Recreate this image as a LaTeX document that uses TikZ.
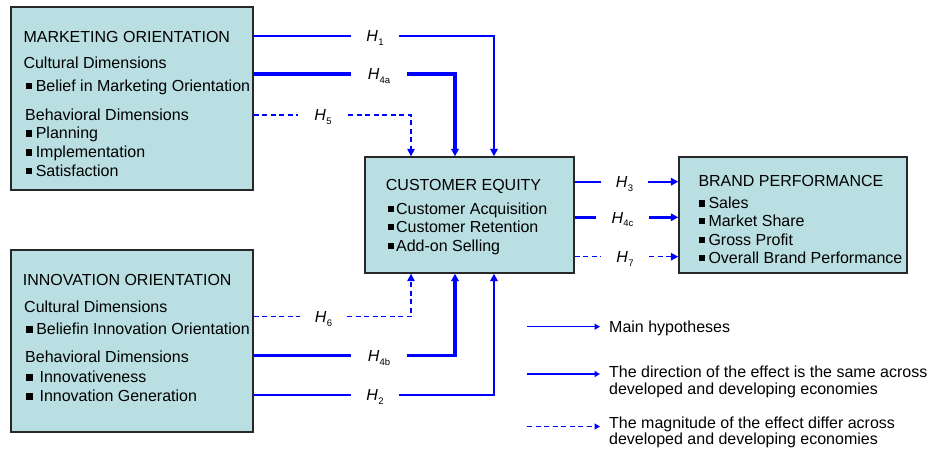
\documentclass[tikz,border=0pt]{standalone}
\usepackage{fontspec}
\setmainfont{Liberation Sans}
\usetikzlibrary{arrows.meta,calc}

\definecolor{boxfill}{RGB}{186,223,226}
\definecolor{edge}{RGB}{40,40,40}
\definecolor{hypblue}{RGB}{0,0,255}

% square bullet used in the construct boxes
\newcommand\sqb{\rule[1.8pt]{6.6pt}{6.6pt}}
% hypothesis label: italic H with a lowered index, centred on the connector
\newcommand\hyp[1]{\raisebox{-5.8pt}[0pt][0pt]{\textit{H}\kern0.3pt\raisebox{-3.6pt}{\fontsize{9.5}{10}\selectfont #1}}}

\begin{document}
\begin{tikzpicture}[
  x=1pt, y=-1pt,
  font=\fontsize{16}{19}\selectfont,
  box/.style={draw=edge, line width=1.4pt, fill=boxfill, inner sep=0},
  txt/.style={anchor=base west, inner sep=0},
  ltxt/.style={anchor=base west, inner ysep=0, inner xsep=9pt},
  hlab/.style={inner sep=0, minimum height=0},
  thinline/.style={draw=hypblue, line width=1.9pt},
  thickline/.style={draw=hypblue, line width=3.1pt},
  dashline/.style={draw=hypblue, line width=1.4pt, dash pattern=on 5pt off 3.5pt},
  tip/.style={-{Triangle[length=7.5pt,width=7.5pt]}},
  smalltip/.style={-{Triangle[length=5.5pt,width=6pt]}}
]
\useasboundingbox (0,0) rectangle (937,448);

% construct boxes
\node[box, minimum width=242pt, minimum height=183pt] (mo) at (132,98.5) {};
\node[box, minimum width=242pt, minimum height=182pt] (io) at (132,341) {};
\node[box, minimum width=209pt, minimum height=116pt] (ce) at (469.5,215) {};
\node[box, minimum width=228pt, minimum height=116pt] (bp) at (793,215) {};

% marketing orientation
\node[txt] (mo1) at (23.3,42) {MARKETING ORIENTATION};
\node[txt] (mo2) at (23.3,68.3) {Cultural Dimensions};
\node[txt] (mo3) at (25.3,91) {\sqb\hspace{3.7pt}Belief in Marketing Orientation};
\node[txt] (mo4) at (25,120) {Behavioral Dimensions};
\node[txt] (mo5) at (25.3,138.3) {\sqb\hspace{3.7pt}Planning};
\node[txt] (mo6) at (25.3,157.3) {\sqb\hspace{3.7pt}Implementation};
\node[txt] (mo7) at (25.3,176) {\sqb\hspace{3.7pt}Satisfaction};

% innovation orientation
\node[txt] (io1) at (22.7,285.3) {INNOVATION ORIENTATION};
\node[txt] (io2) at (24,312) {Cultural Dimensions};
\node[txt] (io3) at (26,334.3) {\sqb\hspace{3.5pt}Beliefin Innovation Orientation};
\node[txt] (io4) at (25,362) {Behavioral Dimensions};
\node[txt] (io5) at (26,382.3) {\sqb\hspace{6.8pt}Innovativeness};
\node[txt] (io6) at (26,401.3) {\sqb\hspace{6.8pt}Innovation Generation};

% customer equity
\node[txt] (ce1) at (385.7,190) {CUSTOMER EQUITY};
\node[txt] (ce2) at (387.3,214) {\sqb\hspace{2pt}Customer Acquisition};
\node[txt] (ce3) at (387.3,232) {\sqb\hspace{2pt}Customer Retention};
\node[txt] (ce4) at (387.3,251) {\sqb\hspace{2pt}Add-on Selling};

% brand performance
\node[txt] (bp1) at (698.3,186.3) {BRAND PERFORMANCE};
\node[txt] (bp2) at (698.3,208.7) {\sqb\hspace{3.4pt}Sales};
\node[txt] (bp3) at (698.3,226) {\sqb\hspace{3.4pt}Market Share};
\node[txt] (bp4) at (698.3,245) {\sqb\hspace{3.4pt}Gross Profit};
\node[txt] (bp5) at (698.3,263) {\sqb\hspace{3.4pt}Overall Brand Performance};

% hypothesis labels
\node[hlab, minimum width=48pt] (h1)  at (375,35.7)   {\hyp{1}};
\node[hlab, minimum width=56pt] (h4a) at (379,74)     {\hyp{4a}};
\node[hlab, minimum width=50pt] (h5)  at (323,115)    {\hyp{5}};
\node[hlab, minimum width=47pt] (h6)  at (323.5,316.7){\hyp{6}};
\node[hlab, minimum width=56pt] (h4b) at (379,355.7)  {\hyp{4b}};
\node[hlab, minimum width=48pt] (h2)  at (375,395)    {\hyp{2}};
\node[hlab, minimum width=47pt] (h3)  at (624.5,181.7){\hyp{3}};
\node[hlab, minimum width=53pt] (h4c) at (622.5,217.3){\hyp{4c}};
\node[hlab, minimum width=48pt] (h7)  at (625,256.7)  {\hyp{7}};

% entry points on the customer equity box
\coordinate (ceT1) at ([xshift=-58.5pt]ce.north);
\coordinate (ceT2) at ([xshift=-14.5pt]ce.north);
\coordinate (ceT3) at ([xshift=24.5pt]ce.north);
\coordinate (ceB1) at ([xshift=-58.5pt]ce.south);
\coordinate (ceB2) at ([xshift=-14.5pt]ce.south);
\coordinate (ceB3) at ([xshift=24.5pt]ce.south);

% marketing orientation -> customer equity
\draw[thinline] (h1 -| mo.east) -- (h1.west);
\draw[thinline, tip] (h1.east) -| (ceT3);
\draw[thickline] (h4a -| mo.east) -- (h4a.west);
\draw[thickline, tip] (h4a.east) -| (ceT2);
\draw[dashline] (h5 -| mo.east) -- (h5.west);
\draw[dashline, tip] (h5.east) -| (ceT1);

% innovation orientation -> customer equity
\draw[dashline] (h6 -| io.east) -- (h6.west);
\draw[dashline, tip] (h6.east) -| (ceB1);
\draw[thickline] (h4b -| io.east) -- (h4b.west);
\draw[thickline, tip] (h4b.east) -| (ceB2);
\draw[thinline] (h2 -| io.east) -- (h2.west);
\draw[thinline, tip] (h2.east) -| (ceB3);

% customer equity -> brand performance
\draw[thinline] (h3 -| ce.east) -- (h3.west);
\draw[thinline, tip] (h3.east) -- (h3 -| bp.west);
\draw[thickline] (h4c -| ce.east) -- (h4c.west);
\draw[thickline, tip] (h4c.east) -- (h4c -| bp.west);
\draw[dashline] (h7 -| ce.east) -- (h7.west);
\draw[dashline, tip] (h7.east) -- (h7 -| bp.west);

% legend
\coordinate (lg1) at (527,326.7);
\coordinate (lg2) at (527,374);
\coordinate (lg3) at (527,426.5);
\node[ltxt] (lt1)  at (600,332.5) {Main hypotheses};
\node[ltxt] (lt2a) at (600,377)   {The direction of the effect is the same across};
\node[ltxt] (lt2b) at (600,394.3) {developed and developing economies};
\node[ltxt] (lt3a) at (600,428.5) {The magnitude of the effect differ across};
\node[ltxt] (lt3b) at (600,444.3) {developed and developing economies};
\draw[draw=hypblue, line width=1.5pt, smalltip] (lg1) -- (lg1 -| lt1.west);
\draw[draw=hypblue, line width=2.5pt, smalltip] (lg2) -- (lg2 -| lt2a.west);
\draw[dashline, smalltip] (lg3) -- (lg3 -| lt3a.west);
\end{tikzpicture}
\end{document}
